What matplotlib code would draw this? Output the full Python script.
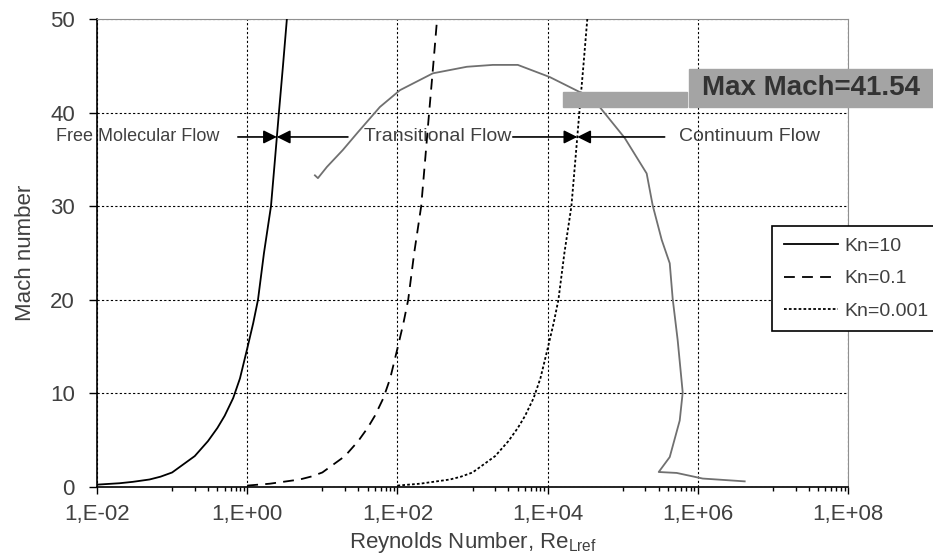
import numpy as np
import matplotlib
matplotlib.use('Agg')
import matplotlib.pyplot as plt
import matplotlib.ticker as ticker
from matplotlib.patches import Rectangle

plt.rcParams['font.family'] = ['Liberation Sans', 'DejaVu Sans']
plt.rcParams['mathtext.fontset'] = 'custom'
plt.rcParams['mathtext.rm'] = 'Liberation Sans'

# Kn = const lines (Reynolds number vs Mach number)
kn10_re = [0.01, 0.02, 0.03, 0.05, 0.07, 0.1, 0.14, 0.2, 0.3, 0.4, 0.5, 0.65, 0.8, 1.0,
           1.2, 1.39, 1.67, 2.07, 2.34, 2.64, 2.99, 3.37]
kn10_mach = [0.25, 0.4, 0.55, 0.8, 1.1, 1.55, 2.4, 3.3, 4.9, 6.3, 7.6, 9.5, 11.6, 14.8,
             17.5, 20, 25, 30, 35, 40, 45, 50]

kn01_re = [1.0, 2.0, 3.0, 5.0, 7.0, 10, 14, 20, 30, 40, 50, 65, 80, 100,
           120, 139, 167, 207, 234, 264, 299, 337]
kn01_mach = [0.15, 0.35, 0.55, 0.8, 1.1, 1.55, 2.4, 3.3, 4.9, 6.3, 7.6, 9.5, 11.6, 14.8,
             17.5, 20, 25, 30, 35, 40, 45, 50]

kn0001_re = [100, 200, 300, 500, 700, 1000, 1400, 2000, 3000, 4000, 5000, 6500, 8000, 10000,
             12000, 13900, 16700, 20700, 23400, 26400, 29900, 33700]
kn0001_mach = [0.15, 0.35, 0.55, 0.8, 1.1, 1.55, 2.4, 3.3, 4.9, 6.3, 7.6, 9.5, 11.6, 14.8,
               17.5, 20, 25, 30, 35, 40, 45, 50]

# flight trajectory
traj_re = [7.96, 8.73, 11.5, 18.7, 29.7, 58.3, 108, 296, 839, 1862, 4000, 1.067e4, 2.67e4,
           4.93e4, 1.06e5, 2.08e5, 2.50e5, 3.30e5, 4.22e5, 4.62e5, 5.38e5, 6.28e5, 5.73e5,
           4.22e5, 3.01e5, 5.22e5, 1.16e6, 4.20e6]
traj_mach = [33.3, 33.0, 34.2, 36.0, 37.9, 40.6, 42.4, 44.2, 44.9, 45.1, 45.1, 43.8, 42.2,
             40.6, 37.3, 33.5, 30.1, 26.4, 23.9, 20.1, 15.7, 10.1, 7.1,
             3.2, 1.6, 1.5, 0.9, 0.6]

legend_labels = ['Kn=10', 'Kn=0.1', 'Kn=0.001']
flow_labels = ['Free Molecular Flow', 'Transitional Flow', 'Continuum Flow']
max_mach_label = 'Max Mach=41.54'
arrow_mach = 37.4

txt = '#404040'

fig = plt.figure(figsize=(9.33, 5.6), dpi=100)
ax = fig.add_axes([0.104, 0.1304, 0.805, 0.8356])

ax.plot(traj_re, traj_mach, color='#707070', lw=1.3, zorder=3)
l1, = ax.plot(kn10_re, kn10_mach, color='black', lw=1.3, ls='-', zorder=4)
l2, = ax.plot(kn01_re, kn01_mach, color='black', lw=1.3, ls=(0, (6, 4)), zorder=4)
l3, = ax.plot(kn0001_re, kn0001_mach, color='black', lw=1.3, ls=(0, (1.5, 1.2)), zorder=4)

ax.set_xscale('log')
ax.set_xlim(1e-2, 1e8)
ax.set_ylim(0, 50)

ax.xaxis.set_major_locator(ticker.FixedLocator([10.0**e for e in range(-2, 9, 2)]))
minor = [k * 10.0**e for e in range(-1, 8, 2) for k in range(1, 10)]
ax.xaxis.set_minor_locator(ticker.FixedLocator(minor))
ax.xaxis.set_minor_formatter(ticker.NullFormatter())
ax.xaxis.set_major_formatter(ticker.FuncFormatter(
    lambda v, p: '1,E%+03d' % int(round(np.log10(v)))))
ax.yaxis.set_major_locator(ticker.MultipleLocator(10))

ax.tick_params(axis='x', which='major', length=5, width=1, pad=7, labelsize=16, labelcolor=txt)
ax.tick_params(axis='x', which='minor', length=3, width=1)
ax.tick_params(axis='y', which='major', length=6, width=1, pad=10, labelsize=16, labelcolor=txt)

ax.grid(True, which='major', color='black', ls=(0, (2, 2)), lw=0.8)
ax.set_axisbelow(True)

for s in ['top', 'right']:
    ax.spines[s].set_color('#909090')
for s in ['left', 'bottom']:
    ax.spines[s].set_color('black')
    ax.spines[s].set_linewidth(1.2)

ax.set_xlabel(r'Reynolds Number, Re$_{\mathrm{Lref}}$', fontsize=16, color=txt, labelpad=4)
ax.set_ylabel('Mach number', fontsize=16, color=txt, labelpad=10)

# flow regime arrows
tip1 = 10 ** np.interp(arrow_mach, kn10_mach, np.log10(kn10_re))
tip2 = 10 ** np.interp(arrow_mach, kn0001_mach, np.log10(kn0001_re))
ap = dict(arrowstyle='-|>', color='black', lw=1.2, mutation_scale=20, shrinkA=0, shrinkB=0)
for start, tip in [(0.75, tip1), (21.9, tip1), (3436, tip2), (3.61e5, tip2)]:
    ax.annotate('', xy=(tip, arrow_mach), xytext=(start, arrow_mach), arrowprops=ap, zorder=5)

ax.text(0.0352, arrow_mach, flow_labels[0], fontsize=13, color=txt, ha='center', va='center')
ax.text(340, arrow_mach, flow_labels[1], fontsize=14, color=txt, ha='center', va='center')
ax.text(4.82e6, arrow_mach, flow_labels[2], fontsize=14, color=txt, ha='center', va='center')

leg = fig.legend([l1, l2, l3], legend_labels, loc='upper left',
                 bbox_to_anchor=(772 / 933, 1 - 226 / 560), fontsize=14,
                 frameon=True, fancybox=False, framealpha=1, edgecolor='black',
                 handlelength=2.8, handletextpad=0.3, labelspacing=0.75,
                 borderpad=0.6, borderaxespad=0)
leg.get_frame().set_linewidth(1.2)
for t in leg.get_texts():
    t.set_color(txt)

# max Mach callout
gray = '#a4a4a4'
fig.patches.append(Rectangle((689 / 933, 1 - 107 / 560), (933 - 689) / 933, 38 / 560,
                             transform=fig.transFigure, color=gray, zorder=6))
fig.patches.append(Rectangle((563 / 933, 1 - 107 / 560), (687 - 563) / 933, 15 / 560,
                             transform=fig.transFigure, color=gray, zorder=6))
fig.text(702 / 933, 1 - 88 / 560, max_mach_label, fontsize=20, fontweight='bold',
         color='#333333', ha='left', va='center', zorder=7)

plt.savefig('out.png', dpi=100)
